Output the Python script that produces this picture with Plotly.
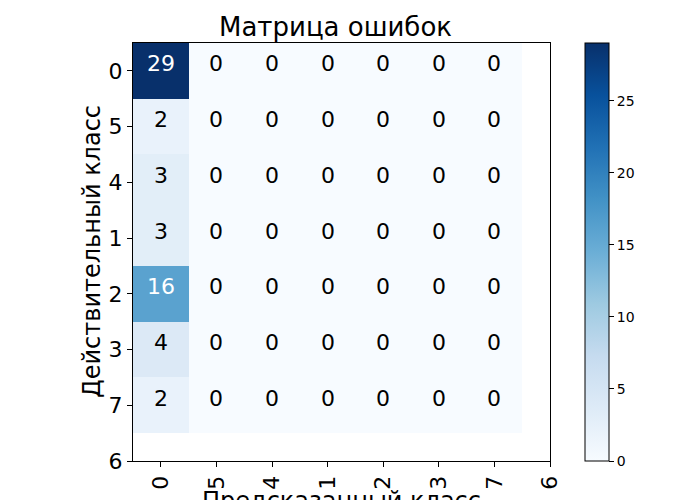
import plotly.graph_objects as go

tick_labels = ["0", "5", "4", "1", "2", "3", "7", "6"]
first_col = [29, 2, 3, 3, 16, 4, 2]
n_rows = 7
n_cols = 7

z = [[first_col[r]] + [0] * (n_cols - 1) for r in range(n_rows)]
zmax = max(first_col)
thresh = zmax / 2.0

blues = ["#f7fbff", "#deebf7", "#c6dbef", "#9ecae1", "#6baed6",
         "#4292c6", "#2171b5", "#08519c", "#08306b"]
cscale = [[i / (len(blues) - 1), c] for i, c in enumerate(blues)]

font_family = "DejaVu Sans"

fig = go.Figure()
fig.add_trace(go.Heatmap(
    z=z, x=list(range(n_cols)), y=list(range(n_rows)),
    colorscale=cscale, zmin=0, zmax=zmax,
    colorbar=dict(
        x=(585 - 133) / 417, xanchor="left", xpad=0, ypad=0,
        y=0.5, yanchor="middle", len=1, lenmode="fraction",
        thickness=24, outlinecolor="black", outlinewidth=1,
        tickvals=[0, 5, 10, 15, 20, 25], ticks="outside", ticklen=5,
        tickcolor="black", tickfont=dict(family=font_family, size=14, color="black"),
    ),
    hoverinfo="skip",
))

annotations = []
for r in range(n_rows):
    for c in range(n_cols):
        v = z[r][c]
        annotations.append(dict(
            x=c, y=r, xref="x", yref="y", text=str(v), showarrow=False,
            xanchor="center", yanchor="middle", yshift=7,
            font=dict(family=font_family, size=22,
                      color="white" if v > thresh else "black"),
        ))

axis_common = dict(
    tickvals=list(range(len(tick_labels))), ticktext=tick_labels,
    ticks="outside", ticklen=5, tickcolor="black", tickwidth=1,
    showline=True, linecolor="black", linewidth=1, mirror=True,
    showgrid=False, zeroline=False, automargin=False,
    tickfont=dict(family=font_family, size=22, color="black"),
)

annotations += [
    dict(text="Предсказанный класс", xref="paper", yref="paper",
         x=0.5, y=0, xanchor="center", yanchor="top", yshift=-24,
         showarrow=False, font=dict(family=font_family, size=24, color="black")),
    dict(text="Действительный класс", xref="paper", yref="paper",
         x=0, y=0.5, xanchor="center", yanchor="middle", xshift=-41,
         textangle=-90, showarrow=False,
         font=dict(family=font_family, size=24, color="black")),
]

fig.update_layout(
    width=700, height=500,
    margin=dict(l=133, r=150, t=43, b=39),
    paper_bgcolor="white", plot_bgcolor="white",
    title=dict(text="Матрица ошибок", x=(218 + 453) / 2 / 700, xanchor="center",
               y=1 - 27 / 500, yanchor="middle",
               font=dict(family=font_family, size=26, color="black")),
    xaxis=dict(range=[-0.5, 7], tickangle=-90, **axis_common),
    yaxis=dict(range=[7, -0.5], **axis_common),
    annotations=annotations,
)

fig.write_html("out.html")
